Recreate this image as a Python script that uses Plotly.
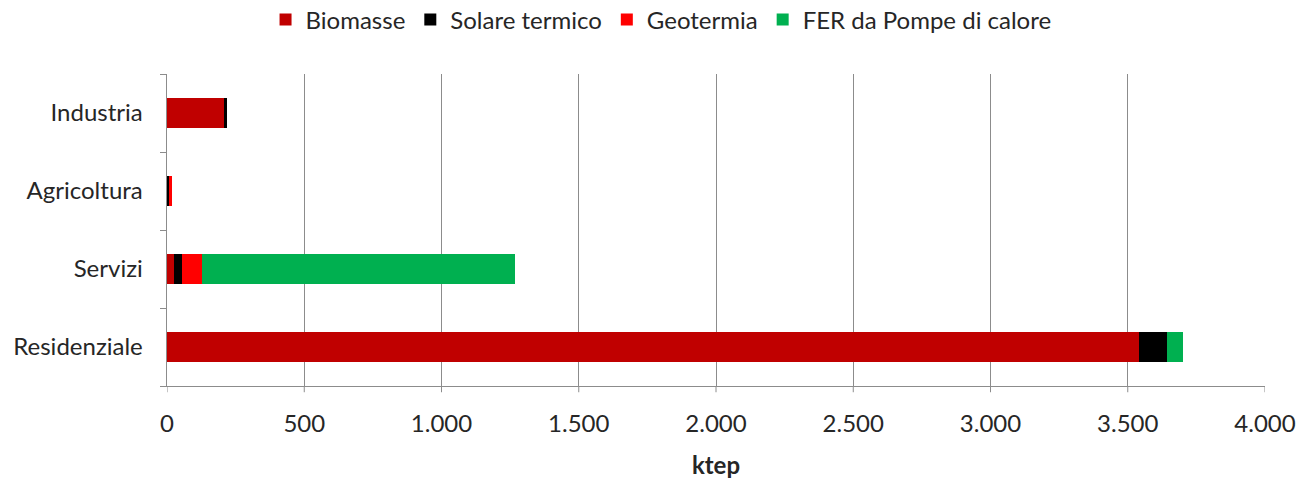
import plotly.graph_objects as go

# Renewable heat consumption by sector (ktep)
sectors = ["Residenziale", "Servizi", "Agricoltura", "Industria"]
biomasse = [3541, 25, 2, 208]
solare_termico = [102, 28, 6, 10]
geotermia = [0, 74, 10, 0]
fer_pompe_calore = [58, 1140, 0, 0]

series = [
    ("Biomasse", biomasse, "#C00000"),
    ("Solare termico", solare_termico, "#000000"),
    ("Geotermia", geotermia, "#FF0000"),
    ("FER da Pompe di calore", fer_pompe_calore, "#00B050"),
]

x_ticks = [0, 500, 1000, 1500, 2000, 2500, 3000, 3500, 4000]

fig = go.Figure()
for name, vals, color in series:
    fig.add_trace(go.Bar(
        y=sectors, x=vals, name=name, orientation="h",
        marker=dict(color=color, line=dict(width=0)),
    ))

font_family = "Lato, Open Sans, sans-serif"
fsize = 24

fig.update_layout(
    barmode="stack",
    bargap=0.61,
    width=1309, height=479,
    margin=dict(l=167, r=44, t=74, b=93, autoexpand=False),
    paper_bgcolor="white",
    plot_bgcolor="white",
    separators=",.",
    font=dict(family=font_family, size=fsize, color="#262626"),
    legend=dict(
        orientation="h", x=0.505, xref="container", xanchor="center",
        y=1.173, yref="paper", yanchor="middle",
        font=dict(size=fsize), traceorder="normal",
        itemwidth=30, tracegroupgap=0,
    ),
    xaxis=dict(
        range=[0, 4000], tickvals=x_ticks, tickformat=",d",
        showgrid=True, gridcolor="#8C8C8C", gridwidth=1,
        showline=True, linecolor="#8C8C8C", linewidth=1,
        ticks="outside", ticklen=16, tickcolor="rgba(0,0,0,0)",
        zeroline=False,
        title=dict(text="<b>ktep</b>", font=dict(size=fsize), standoff=26),
    ),
    yaxis=dict(
        categoryorder="array", categoryarray=sectors,
        showline=True, linecolor="#8C8C8C", linewidth=1,
        ticks="outside", ticklen=6, tickcolor="#8C8C8C",
        tickson="boundaries", showgrid=False,
        ticksuffix="   ",
    ),
)

# short outside tick marks on the value axis
for v in x_ticks:
    fig.add_shape(type="line", xref="x", yref="paper", x0=v, x1=v, y0=0, y1=-0.02,
                  line=dict(color="#8C8C8C", width=1))

fig.write_html("out.html")
